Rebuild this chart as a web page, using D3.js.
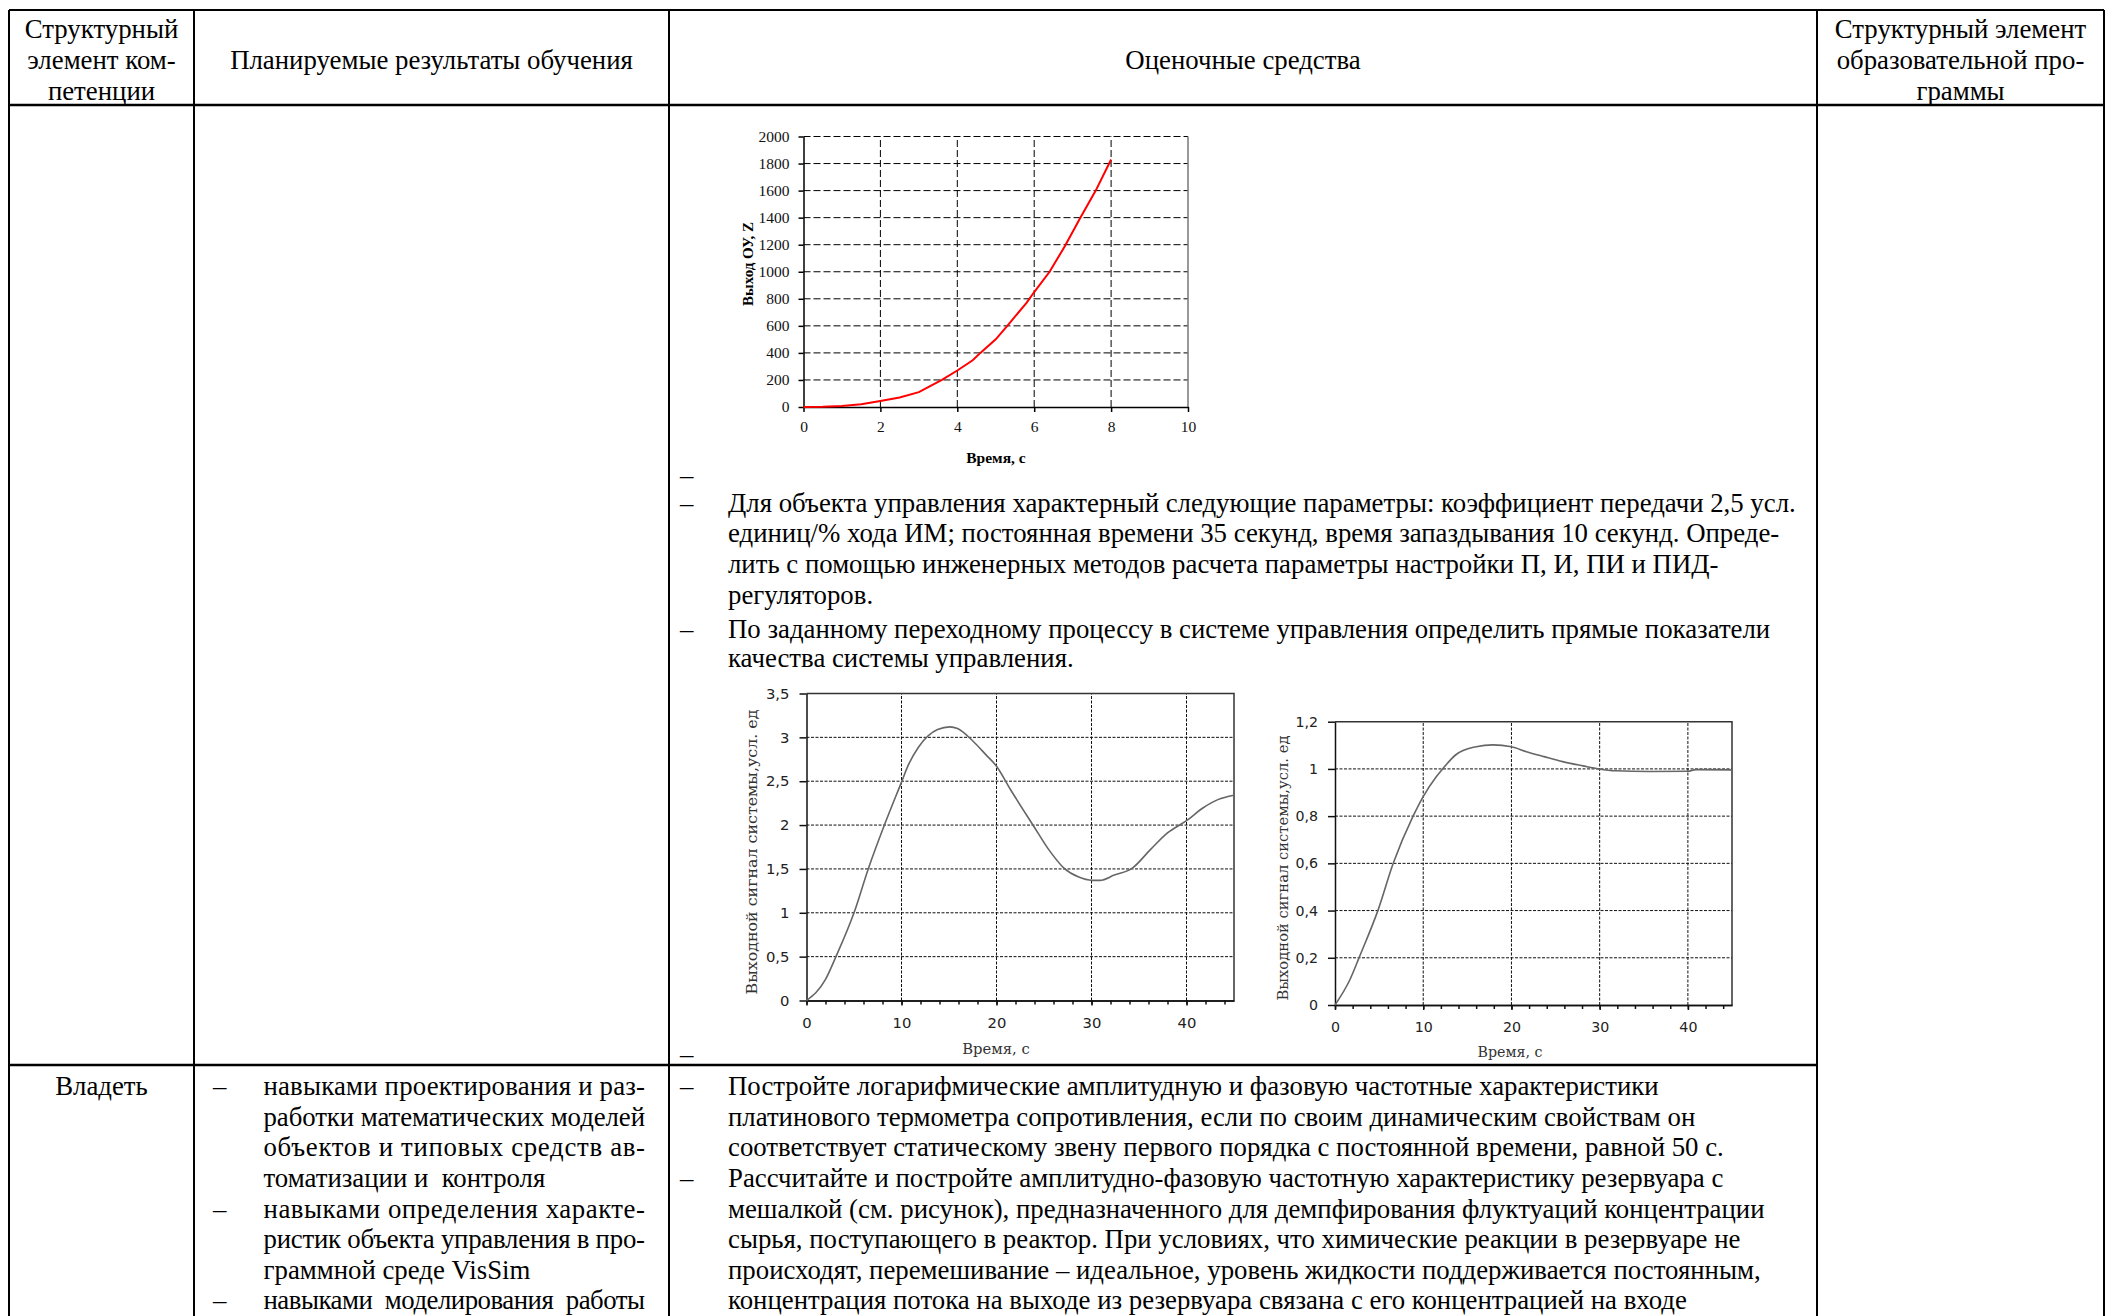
<!DOCTYPE html>
<html>
<head>
<meta charset="utf-8">
<script src="https://cdn.jsdelivr.net/npm/d3@7"></script>
<style>
  html, body { margin: 0; padding: 0; background: #fff; }
  svg { display: block; }
</style>
</head>
<body>
<svg id="page" width="2107" height="1316"></svg>
<script>
// ---------------- DATA ----------------
// Header texts
const headerCol1 = ["Структурный", "элемент ком-", "петенции"];
const headerCol2 = ["Планируемые результаты обучения"];
const headerCol3 = ["Оценочные средства"];
const headerCol4 = ["Структурный элемент", "образовательной про-", "граммы"];

// Upper row, column 3 text (after chart 1)
const upperTextLines = [
  {b: true,  t: "Для объекта управления характерный следующие параметры: коэффициент передачи 2,5 усл."},
  {b: false, t: "единиц/% хода ИМ; постоянная времени 35 секунд, время запаздывания 10 секунд. Опреде-"},
  {b: false, t: "лить с помощью инженерных методов расчета параметры настройки П, И, ПИ и ПИД-"},
  {b: false, t: "регуляторов."},
  {b: true,  t: "По заданному переходному процессу в системе управления определить прямые показатели"},
  {b: false, t: "качества системы управления."}
];
const upperBaselines = [512, 542, 573, 604, 638, 667];

// Lower row texts
const lowerCol1 = "Владеть";
const lowerCol2 = [
  {b: true,  j: true,  t: "навыками проектирования и раз-"},
  {b: false, j: true,  t: "работки математических моделей"},
  {b: false, j: true,  t: "объектов и типовых средств ав-"},
  {b: false, j: false, t: "томатизации и  контроля"},
  {b: true,  j: true,  t: "навыками определения характе-"},
  {b: false, j: true,  t: "ристик объекта управления в про-"},
  {b: false, j: false, t: "граммной среде VisSim"},
  {b: true,  j: true,  t: "навыками  моделирования  работы"}
];
const lowerCol3 = [
  {b: true,  t: "Постройте логарифмические амплитудную и фазовую частотные характеристики"},
  {b: false, t: "платинового термометра сопротивления, если по своим динамическим свойствам он"},
  {b: false, t: "соответствует статическому звену первого порядка с постоянной времени, равной 50 с."},
  {b: true,  t: "Рассчитайте и постройте амплитудно-фазовую частотную характеристику резервуара с"},
  {b: false, t: "мешалкой (см. рисунок), предназначенного для демпфирования флуктуаций концентрации"},
  {b: false, t: "сырья, поступающего в реактор. При условиях, что химические реакции в резервуаре не"},
  {b: false, t: "происходят, перемешивание – идеальное, уровень жидкости поддерживается постоянным,"},
  {b: false, t: "концентрация потока на выходе из резервуара связана с его концентрацией на входе"}
];
const lowerBaselines = [1095, 1126, 1156, 1187, 1218, 1248, 1279, 1309];

// Chart 1: Выход ОУ, Z vs time
const chart1Time = [0, 0.5, 1, 1.5, 2, 2.5, 3, 3.6, 4, 4.4, 4.6, 5, 5.3, 5.8, 6, 6.4, 6.8, 7.2, 7.6, 8];
const chart1Z    = [0, 2, 8, 20, 45, 70, 110, 200, 270, 345, 400, 500, 600, 770, 850, 1000, 1190, 1400, 1600, 1830];
const chart1XTicks = [0, 2, 4, 6, 8, 10];
const chart1YTicks = [0, 200, 400, 600, 800, 1000, 1200, 1400, 1600, 1800, 2000];
const chart1XTitle = "Время, с";
const chart1YTitle = "Выход ОУ, Z";

// Chart 2: oscillating transient
const chart2Time = [0, 2, 3.1, 5, 6.5, 8.2, 10, 10.7, 11.8, 13.8, 15.1, 15.9, 17.4, 18.9, 20, 21.5, 23.9, 25.5, 27.1, 28.6, 30.1, 30.9, 32.4, 34.3, 36.2, 38, 40, 41.8, 43.3, 45];
const chart2Y    = [0, 0.24, 0.5, 1.0, 1.5, 2.0, 2.49, 2.68, 2.89, 3.09, 3.12, 3.1, 2.97, 2.8, 2.67, 2.4, 1.99, 1.72, 1.51, 1.41, 1.37, 1.37, 1.43, 1.51, 1.72, 1.91, 2.05, 2.2, 2.29, 2.34];
const chart2XTicks = [0, 10, 20, 30, 40];
const chart2YTicks = [0, 0.5, 1, 1.5, 2, 2.5, 3, 3.5];

// Chart 3: damped transient
const chart3Time = [0, 1.7, 2.8, 4.9, 6.6, 8.85, 10, 11.5, 12.2, 13.7, 16, 17.9, 20, 21.7, 23.7, 25.8, 28.1, 29.9, 31.8, 35.6, 40, 40.9, 45];
const chart3Y    = [0, 0.108, 0.207, 0.404, 0.6, 0.8, 0.883, 0.968, 1.0, 1.06, 1.094, 1.102, 1.094, 1.073, 1.052, 1.031, 1.013, 1.0, 0.992, 0.989, 0.99, 0.997, 0.996];
const chart3XTicks = [0, 10, 20, 30, 40];
const chart3YTicks = [0, 0.2, 0.4, 0.6, 0.8, 1, 1.2];

const transientXTitle = "Время, с";
const transientYTitle = "Выходной сигнал системы,усл. ед";

// ---------------- DRAWING ----------------
const svg = d3.select("#page");
const SERIF = "Liberation Serif, Times New Roman, serif";
const FS = 26.8;

svg.append("rect").attr("width", 2107).attr("height", 1316).attr("fill", "#fff");

// Table geometry
const T = {left: 9, right: 2104, top: 10, headBottom: 105, rowLine: 1065, bottom: 1320,
           c1: 194, c2: 669, c3: 1817};
const tbl = svg.append("g").attr("stroke", "#000").attr("fill", "none");
tbl.append("line").attr("x1", T.left).attr("x2", T.right).attr("y1", T.top).attr("y2", T.top).attr("stroke-width", 2);
tbl.append("line").attr("x1", T.left).attr("x2", T.right).attr("y1", T.headBottom).attr("y2", T.headBottom).attr("stroke-width", 2.5);
tbl.append("line").attr("x1", T.left).attr("x2", T.c3).attr("y1", T.rowLine).attr("y2", T.rowLine).attr("stroke-width", 2.5);
[T.left, T.c1, T.c2, T.c3, T.right].forEach(x => {
  tbl.append("line").attr("x1", x).attr("x2", x).attr("y1", T.top).attr("y2", T.bottom).attr("stroke-width", 2);
});

function txt(x, y, s, opts = {}) {
  const t = svg.append("text")
    .attr("x", x).attr("y", y)
    .attr("font-family", opts.family || SERIF)
    .attr("font-size", opts.size || FS)
    .attr("fill", opts.fill || "#000")
    .attr("text-anchor", opts.anchor || "start")
    .style("white-space", "pre")
    .text(s);
  if (opts.weight) t.attr("font-weight", opts.weight);
  if (opts.len) t.attr("textLength", opts.len).attr("lengthAdjust", "spacing");
  return t;
}

// Header
const hb = [37.5, 68.5, 99.5];
const c1c = (T.left + T.c1) / 2, c2c = (T.c1 + T.c2) / 2, c3c = (T.c2 + T.c3) / 2, c4c = (T.c3 + T.right) / 2;
headerCol1.forEach((s, i) => txt(c1c, hb[i], s, {anchor: "middle"}));
headerCol2.forEach(s => txt(c2c, hb[1], s, {anchor: "middle"}));
headerCol3.forEach(s => txt(c3c, hb[1], s, {anchor: "middle"}));
headerCol4.forEach((s, i) => txt(c4c, hb[i], s, {anchor: "middle"}));

// Upper row col 3
const DASH_X = 680, TEXT3_X = 728;
txt(DASH_X, 484, "–");
upperTextLines.forEach((l, i) => {
  if (l.b) txt(DASH_X, upperBaselines[i], "–");
  txt(TEXT3_X, upperBaselines[i], l.t);
});
txt(DASH_X, 1063, "–");

// Lower row
txt(c1c, lowerBaselines[0], lowerCol1, {anchor: "middle"});
lowerCol2.forEach((l, i) => {
  if (l.b) txt(213, lowerBaselines[i], "–");
  txt(263.5, lowerBaselines[i], l.t, l.j ? {len: 381.5} : {});
});
lowerCol3.forEach((l, i) => {
  if (l.b) txt(DASH_X, lowerBaselines[i], "–");
  txt(TEXT3_X, lowerBaselines[i], l.t);
});

// ---------------- CHART 1 ----------------
(function() {
  const x = d3.scaleLinear().domain([0, 10]).range([803.5, 1188]);
  const y = d3.scaleLinear().domain([0, 2000]).range([407, 136.5]);
  const g = svg.append("g");
  const grid = g.append("g").attr("stroke", "#000").attr("stroke-width", 1).attr("stroke-dasharray", "7,3");
  chart1XTicks.filter(d => d > 0 && d < 10).forEach(d =>
    grid.append("line").attr("x1", x(d)).attr("x2", x(d)).attr("y1", y(0)).attr("y2", y(2000)));
  chart1YTicks.filter(d => d > 0).forEach(d =>
    grid.append("line").attr("x1", x(0)).attr("x2", x(10)).attr("y1", y(d)).attr("y2", y(d)));
  g.append("line").attr("x1", x(10)).attr("x2", x(10)).attr("y1", y(0)).attr("y2", y(2000))
    .attr("stroke", "#777").attr("stroke-width", 1.5);

  const ax = g.append("g").attr("transform", `translate(0,${y(0)})`)
    .call(d3.axisBottom(x).tickValues(chart1XTicks).tickFormat(d3.format("d")).tickSize(5).tickPadding(9).tickSizeOuter(0));
  const ay = g.append("g").attr("transform", `translate(${x(0)},0)`)
    .call(d3.axisLeft(y).tickValues(chart1YTicks).tickFormat(d3.format("d")).tickSize(5).tickPadding(9).tickSizeOuter(0));
  [ax, ay].forEach(a => {
    a.selectAll("path,line").attr("stroke", "#000").attr("stroke-width", 1.5);
    a.selectAll("text").attr("font-family", SERIF).attr("font-size", 15.5).attr("fill", "#111");
  });

  const line = d3.line().x((d, i) => x(chart1Time[i])).y(d => y(d));
  g.append("path").datum(chart1Z).attr("d", line).attr("fill", "none")
    .attr("stroke", "#ff0000").attr("stroke-width", 2);

  txt(996, 463, chart1XTitle, {anchor: "middle", size: 15.5, weight: "bold"});
  g.append("text").attr("transform", "translate(753,264) rotate(-90)")
    .attr("text-anchor", "middle").attr("font-family", SERIF).attr("font-size", 15)
    .attr("font-weight", "bold").text(chart1YTitle);
})();

// ---------------- CHARTS 2 & 3 ----------------
function transientChart(cfg) {
  const x = d3.scaleLinear().domain([0, 45]).range([cfg.x0, cfg.x1]);
  const y = d3.scaleLinear().domain([0, cfg.yMax]).range([cfg.y0, cfg.y1]);
  const g = svg.append("g");
  const grid = g.append("g").attr("stroke", "#111").attr("stroke-width", 1).attr("stroke-dasharray", "3,1.5");
  cfg.xTicks.filter(d => d > 0).forEach(d =>
    grid.append("line").attr("x1", x(d)).attr("x2", x(d)).attr("y1", y(0)).attr("y2", y(cfg.yMax)));
  cfg.yTicks.filter(d => d > 0 && d < cfg.yMax).forEach(d =>
    grid.append("line").attr("x1", x(0)).attr("x2", x(45)).attr("y1", y(d)).attr("y2", y(d)));
  // top & right border
  g.append("path").attr("d", `M${x(0)},${y(cfg.yMax)}H${x(45)}V${y(0)}`)
    .attr("fill", "none").attr("stroke", "#333").attr("stroke-width", 1.5);

  const minor = g.append("g").attr("transform", `translate(0,${y(0)})`)
    .call(d3.axisBottom(x).tickValues(d3.range(0, 46, 2)).tickSize(4).tickFormat("").tickSizeOuter(0));
  const ax = g.append("g").attr("transform", `translate(0,${y(0)})`)
    .call(d3.axisBottom(x).tickValues(cfg.xTicks).tickSize(5).tickPadding(12).tickSizeOuter(0));
  const ay = g.append("g").attr("transform", `translate(${x(0)},0)`)
    .call(d3.axisLeft(y).tickValues(cfg.yTicks).tickSize(7).tickPadding(10).tickSizeOuter(0)
      .tickFormat(d => String(+d.toFixed(2)).replace(".", ",")));
  [minor, ax, ay].forEach(a => {
    a.selectAll("path,line").attr("stroke", "#111").attr("stroke-width", 1.5);
    a.selectAll("text").attr("font-family", "DejaVu Sans, Verdana, sans-serif")
      .attr("font-size", cfg.fs).attr("fill", "#222");
  });

  const line = d3.line().x((d, i) => x(cfg.t[i])).y(d => y(d)).curve(d3.curveMonotoneX);
  g.append("path").datum(cfg.v).attr("d", line).attr("fill", "none")
    .attr("stroke", "#666").attr("stroke-width", 1.6);

  g.append("text").attr("x", cfg.xtX).attr("y", cfg.xtY).attr("text-anchor", "middle")
    .attr("font-family", "DejaVu Serif, serif").attr("font-size", cfg.fs).attr("fill", "#333")
    .text(transientXTitle);
  g.append("text").attr("transform", `translate(${cfg.ytX},${cfg.ytY}) rotate(-90)`)
    .attr("text-anchor", "middle").attr("font-family", "DejaVu Serif, serif")
    .attr("font-size", cfg.fs).attr("fill", "#333")
    .attr("textLength", cfg.ytLen).attr("lengthAdjust", "spacingAndGlyphs")
    .text(transientYTitle);
}

transientChart({x0: 806.5, x1: 1234, y0: 1000.5, y1: 693.5, yMax: 3.5,
  xTicks: chart2XTicks, yTicks: chart2YTicks, t: chart2Time, v: chart2Y, fs: 14.8,
  xtX: 996, xtY: 1054, ytX: 757, ytY: 852, ytLen: 285});
transientChart({x0: 1335, x1: 1732, y0: 1005, y1: 721.7, yMax: 1.2,
  xTicks: chart3XTicks, yTicks: chart3YTicks, t: chart3Time, v: chart3Y, fs: 14.2,
  xtX: 1510, xtY: 1057, ytX: 1288, ytY: 868, ytLen: 265});
</script>
</body>
</html>
